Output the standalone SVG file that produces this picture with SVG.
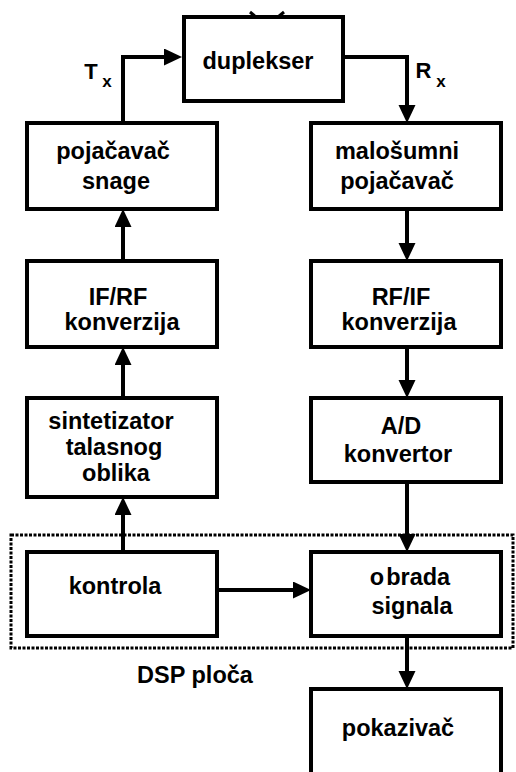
<svg xmlns="http://www.w3.org/2000/svg" width="516" height="772" viewBox="0 0 516 772">
<defs>
<style>
.box{fill:#fff;stroke:#000;stroke-width:4}
.t{font-family:"Liberation Sans",Arial,sans-serif;font-weight:bold;font-size:23.5px;fill:#000;text-anchor:middle}
.c{fill:none;stroke:#000;stroke-width:4}
</style>
<marker id="ah" markerUnits="userSpaceOnUse" markerWidth="20" markerHeight="18" refX="2" refY="8.5" orient="auto">
<path d="M0,0 L18,8.5 L0,17 Z" fill="#000"/>
</marker>
</defs>
<rect width="516" height="772" fill="#fff"/>
<rect id="dsp" x="11" y="535" width="502" height="113" fill="none" stroke="#000" stroke-width="3" stroke-dasharray="3 1.5"/>
<g id="duplekser">
<rect class="box" x="184" y="17" width="159" height="84"/>
<line x1="250" y1="12" x2="256" y2="17" stroke="#000" stroke-width="3"/>
<line x1="284" y1="12" x2="278" y2="17" stroke="#000" stroke-width="3"/>
<text class="t" x="258" y="69">duplekser</text>
</g>
<g id="pojacavac-snage">
<rect class="box" x="27" y="123" width="190" height="86"/>
<text class="t" x="113" y="159">pojačavač</text>
<text class="t" x="116" y="189">snage</text>
</g>
<g id="malosumni">
<rect class="box" x="311" y="123" width="190" height="86"/>
<text class="t" x="397" y="159">malošumni</text>
<text class="t" x="397" y="189">pojačavač</text>
</g>
<g id="if-rf">
<rect class="box" x="27" y="261" width="190" height="86"/>
<text class="t" x="118" y="305">IF/RF</text>
<text class="t" x="122" y="330">konverzija</text>
</g>
<g id="rf-if">
<rect class="box" x="311" y="261" width="190" height="86"/>
<text class="t" x="401" y="305">RF/IF</text>
<text class="t" x="399" y="330">konverzija</text>
</g>
<g id="sintetizator">
<rect class="box" x="27" y="398" width="190" height="99"/>
<text class="t" x="111" y="429">sintetizator</text>
<text class="t" x="114" y="455">talasnog</text>
<text class="t" x="116" y="481">oblika</text>
</g>
<g id="ad">
<rect class="box" x="311" y="398" width="190" height="84"/>
<text class="t" x="401" y="434">A/D</text>
<text class="t" x="398" y="462">konvertor</text>
</g>
<g id="kontrola">
<rect class="box" x="27" y="552" width="190" height="84"/>
<text class="t" x="115" y="594">kontrola</text>
</g>
<g id="obrada">
<rect class="box" x="311" y="552" width="190" height="84"/>
<text class="t" x="410" y="585">o<tspan dx="2">brada</tspan></text>
<text class="t" x="412" y="614">signala</text>
</g>
<g id="pokazivac">
<rect class="box" x="311" y="689" width="190" height="100"/>
<text class="t" x="398" y="736">pokazivač</text>
</g>
<g id="labels">
<text class="t" x="91" y="79" style="font-size:22px">T</text>
<text class="t" x="107" y="87" style="font-size:17px">x</text>
<text class="t" x="423.5" y="78" style="font-size:22px">R</text>
<text class="t" x="441" y="87" style="font-size:17px">x</text>
<text class="t" x="195" y="683">DSP ploča</text>
</g>
<g id="connectors">
<path class="c" d="M123,123 V57 H166" marker-end="url(#ah)"/>
<path class="c" d="M343,57 H407 V107" marker-end="url(#ah)"/>
<path class="c" d="M407,209 V245" marker-end="url(#ah)"/>
<path class="c" d="M407,347 V382" marker-end="url(#ah)"/>
<path class="c" d="M407,482 V536" marker-end="url(#ah)"/>
<path class="c" d="M407,636 V673" marker-end="url(#ah)"/>
<path class="c" d="M123,261 V225" marker-end="url(#ah)"/>
<path class="c" d="M123,398 V363" marker-end="url(#ah)"/>
<path class="c" d="M123,552 V513" marker-end="url(#ah)"/>
<path class="c" d="M217,590 H295" marker-end="url(#ah)"/>
</g>
</svg>
